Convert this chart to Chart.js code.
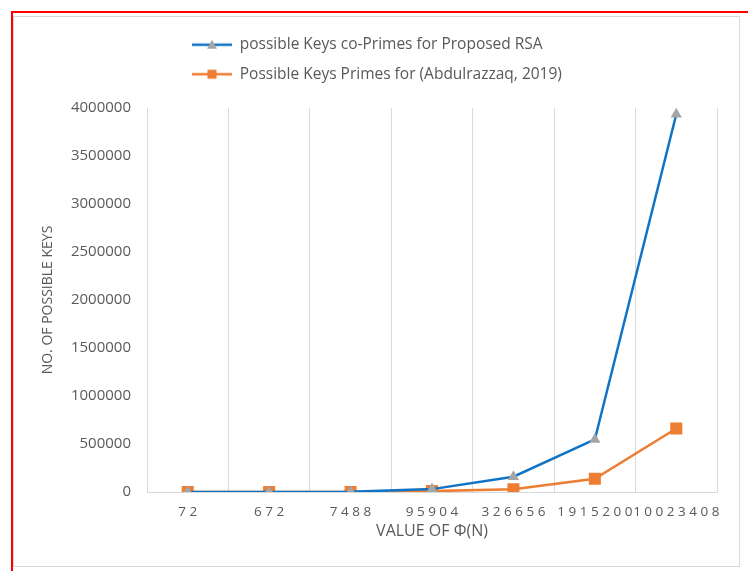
<!DOCTYPE html>
<html>
<head>
<meta charset="utf-8">
<script src="https://cdn.jsdelivr.net/npm/chart.js@4"></script>
<style>
  html, body { margin: 0; padding: 0; background: #fff; width: 748px; height: 571px; overflow: hidden; }
  #red { position: absolute; left: 11px; top: 11px; width: 760px; height: 580px; border-top: 2px solid #f00; border-left: 2px solid #f00; }
  #frame { position: absolute; left: 13px; top: 16px; width: 725px; height: 549px; border: 1px solid #d9d9d9; background: #fff; }
  #chart { display: block; }
</style>
</head>
<body>
<div id="red"></div>
<div id="frame"><canvas id="chart" width="725" height="549"></canvas></div>
<script>
const phiValues = ["72", "672", "7488", "95904", "326656", "1915200", "10023408"];
const coPrimeKeys = [24, 190, 2300, 30000, 159000, 547000, 3935000];
const primeKeys = [20, 122, 950, 9200, 28000, 138000, 662000];
const yTicks = [0, 500000, 1000000, 1500000, 2000000, 2500000, 3000000, 3500000, 4000000];

const BLUE = "#0f74c6", ORANGE = "#ed7d31", GRAY = "#a5a5a5", TEXT = "#595959", GRID = "#d9d9d9";
const LEGEND_X = 164, LEGEND_Y = 6; // top-left of the legend block in canvas px

// legend swatch: a short line with the marker in the middle, like Excel
function swatch(lineColor, markerColor, shape) {
  const c = document.createElement("canvas");
  c.width = 40; c.height = 14;
  const g = c.getContext("2d");
  g.strokeStyle = lineColor; g.lineWidth = 2.5;
  g.beginPath(); g.moveTo(0, 7); g.lineTo(40, 7); g.stroke();
  g.fillStyle = markerColor;
  if (shape === "triangle") {
    g.beginPath(); g.moveTo(20, 2); g.lineTo(25, 11); g.lineTo(15, 11); g.closePath(); g.fill();
  } else {
    g.fillRect(15.5, 2.5, 9, 9);
  }
  return c;
}

// move the (non full-size) legend so both rows start where Excel put them
const legendShift = {
  id: "legendShift",
  afterLayout(chart) {
    const lg = chart.legend;
    if (!lg) return;
    const w = lg.width, h = lg.height;
    lg.left = LEGEND_X; lg.right = LEGEND_X + w;
    lg.top = LEGEND_Y; lg.bottom = LEGEND_Y + h;
  },
};

new Chart(document.getElementById("chart"), {
  type: "line",
  data: {
    labels: phiValues,
    datasets: [
      { label: "possible Keys co-Primes for Proposed RSA", data: coPrimeKeys, borderColor: BLUE, borderWidth: 2.5,
        pointStyle: "triangle", pointRadius: 6.5, pointBackgroundColor: GRAY, pointBorderColor: GRAY, pointBorderWidth: 0, tension: 0 },
      { label: "Possible Keys Primes for (Abdulrazzaq, 2019)", data: primeKeys, borderColor: ORANGE, borderWidth: 2.5,
        pointStyle: "rect", pointRadius: 8.5, pointBackgroundColor: ORANGE, pointBorderColor: ORANGE, pointBorderWidth: 0, tension: 0 },
    ],
  },
  plugins: [legendShift],
  options: {
    responsive: false, animation: false, devicePixelRatio: 1,
    layout: { padding: { top: 22, right: 22, bottom: 0, left: 0 } },
    plugins: {
      tooltip: { enabled: false },
      legend: {
        display: true, position: "top", align: "start", fullSize: false,
        labels: {
          color: TEXT, font: { family: "Open Sans", size: 15.5 }, padding: 14,
          usePointStyle: true, pointStyleWidth: 40, boxHeight: 14,
          generateLabels: (chart) => [
            { text: chart.data.datasets[0].label, pointStyle: swatch(BLUE, GRAY, "triangle"), fontColor: TEXT, datasetIndex: 0, lineWidth: 0, strokeStyle: "transparent" },
            { text: chart.data.datasets[1].label, pointStyle: swatch(ORANGE, ORANGE, "rect"), fontColor: TEXT, datasetIndex: 1, lineWidth: 0, strokeStyle: "transparent" },
          ],
        },
      },
    },
    scales: {
      x: {
        offset: true,
        grid: { display: true, offset: true, color: GRID, lineWidth: 1, drawTicks: false },
        border: { display: true, color: GRID },
        ticks: { color: TEXT, font: { family: "Open Sans", size: 13.5 }, padding: 12, maxRotation: 0, autoSkip: false,
          callback: (v, i) => phiValues[i].split("").join(" ") },
        title: { display: true, text: "VALUE OF \u03A6(N)", color: TEXT, font: { family: "Open Sans", size: 16 }, padding: { top: 4, bottom: 25 } },
        afterFit: (s) => { s.height = 74; },
      },
      y: {
        min: 0, max: 4000000,
        grid: { display: false, drawTicks: false },
        border: { display: true, color: GRID },
        afterBuildTicks: (s) => { s.ticks = yTicks.map((v) => ({ value: v })); },
        ticks: { color: TEXT, font: { family: "Open Sans", size: 15 }, padding: 16, callback: (v) => String(v) },
        title: { display: true, text: "NO. OF POSSIBLE KEYS", color: TEXT, font: { family: "Open Sans", size: 14 }, padding: { top: 25.5 } },
        afterFit: (s) => { s.width = 133; },
      },
    },
  },
});
</script>
</body>
</html>
